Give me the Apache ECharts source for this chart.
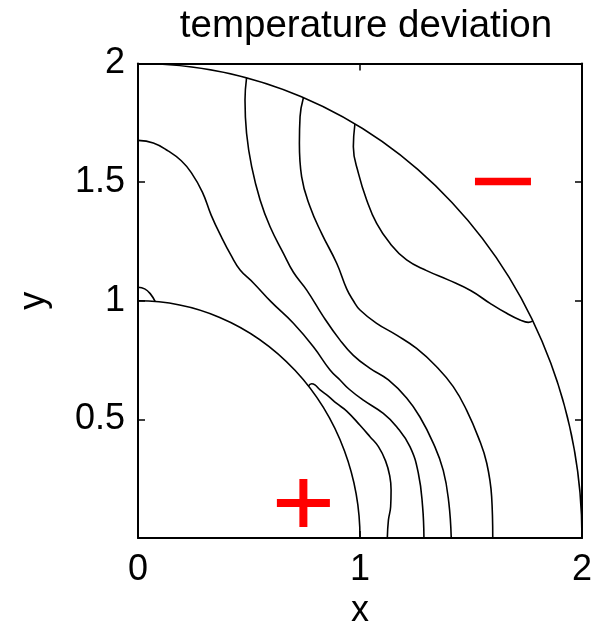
<!DOCTYPE html>
<html><head><meta charset="utf-8">
<script src="https://cdn.jsdelivr.net/npm/echarts@6/dist/echarts.min.js"></script>
<style>html,body{margin:0;padding:0;background:#fff}#c{width:607px;height:628px}</style>
</head><body><div id="c"></div>
<script>
const chartTitle = 'temperature deviation';
const xName = 'x';
const yName = 'y';
const xTickValues = [0, 1, 2];
const yTickValues = [0.5, 1, 1.5, 2];

// boundary circle radii (quarter circles centred at the origin)
const circleRadii = [1, 2];

// contour lines
const contourA = [[0,1.676],[0.069,1.665],[0.135,1.632],[0.195,1.59],[0.24,1.54],[0.29,1.458],[0.33,1.36],[0.375,1.27],[0.42,1.19],[0.46,1.13],[0.52,1.075],[0.60,0.995],[0.70,0.905],[0.79,0.806],[0.865,0.708],[0.91,0.666],[0.95,0.628],[1.015,0.581],[1.105,0.525],[1.165,0.469],[1.225,0.385],[1.263,0.272],[1.282,0.132],[1.288,0]];
const contourB = [[0.489,1.939],[0.482,1.846],[0.489,1.706],[0.512,1.565],[0.55,1.425],[0.595,1.312],[0.655,1.2],[0.70,1.12],[0.76,1.045],[0.835,0.933],[0.91,0.834],[0.97,0.77],[1.045,0.715],[1.128,0.666],[1.21,0.59],[1.27,0.51],[1.33,0.40],[1.375,0.285],[1.40,0.15],[1.411,0]];
const contourC = [[0.745,1.856],[0.730,1.776],[0.727,1.664],[0.737,1.523],[0.775,1.396],[0.827,1.284],[0.895,1.158],[0.94,1.05],[0.97,1.0],[1.0,0.961],[1.075,0.905],[1.165,0.855],[1.255,0.799],[1.345,0.722],[1.42,0.638],[1.48,0.539],[1.535,0.42],[1.571,0.315],[1.593,0.174],[1.598,0]];
const contourD = [[0.977,1.745],[0.970,1.649],[0.993,1.537],[1.030,1.425],[1.075,1.326],[1.135,1.242],[1.21,1.172],[1.30,1.127],[1.40,1.087],[1.50,1.042],[1.586,0.989],[1.661,0.947],[1.721,0.919],[1.758,0.909],[1.778,0.914]];
const contourE = [[0,1.057],[0.03,1.05],[0.055,1.03],[0.077,0.997]];
const contourF = [[0.767,0.640],[0.782,0.650],[0.797,0.645],[0.82,0.624],[0.857,0.598],[0.895,0.567],[0.94,0.535],[1.0,0.475],[1.045,0.427],[1.083,0.385],[1.115,0.325],[1.134,0.262],[1.140,0.202],[1.138,0.132],[1.128,0.075],[1.123,0]];

// sign markers
const plusMarker = [[0.745, 0.148]];
const minusMarker = [[1.644, 1.503]];

const FONT = 'Liberation Sans, Arial, Helvetica, sans-serif';
const contours = [contourA, contourB, contourC, contourD, contourE, contourF];

const chart = echarts.init(document.getElementById('c'), null, {renderer: 'canvas'});

const axisCommon = {
  type: 'value', min: 0, max: 2,
  axisLine: {show: true, onZero: false, lineStyle: {color: '#000', width: 2}},
  axisTick: {show: true, inside: true, length: 7, lineStyle: {color: '#000', width: 1.5}},
  splitLine: {show: false}
};

const series = contours.map(c => ({
  type: 'line', data: c, showSymbol: false, symbol: 'none', smooth: 0.45,
  lineStyle: {color: '#000', width: 1.6}, z: 3, silent: true
}));

series.push({
  type: 'custom', data: circleRadii.map(r => [r, 0]), clip: true, z: 3, silent: true,
  renderItem: function (params, api) {
    const r = api.value(0);
    const c = api.coord([0, 0]);
    const s = api.size([r, r]);
    const rx = s[0], ry = s[1];
    return {
      type: 'path',
      shape: {pathData: 'M ' + c[0] + ' ' + (c[1] - ry) + ' A ' + rx + ' ' + ry + ' 0 0 1 ' + (c[0] + rx) + ' ' + c[1]},
      style: {stroke: '#000', lineWidth: 1.6, fill: null}
    };
  }
});

series.push({
  type: 'scatter', data: plusMarker, z: 4, silent: true,
  symbol: 'path://M22.5,0H30.5V20H53V28H30.5V48H22.5V28H0V20H22.5Z',
  symbolSize: [53, 48], itemStyle: {color: '#ff0000', opacity: 1}
});
series.push({
  type: 'scatter', data: minusMarker, z: 4, silent: true,
  symbol: 'rect', symbolSize: [56, 7.5], itemStyle: {color: '#ff0000', opacity: 1}
});

chart.setOption({
  animation: false,
  backgroundColor: '#fff',
  title: {
    text: chartTitle, left: 361, top: 2, textAlign: 'center',
    textStyle: {fontSize: 38.5, fontWeight: 'normal', color: '#000', fontFamily: FONT}
  },
  grid: {left: 138, right: 25, top: 63.5, bottom: 90, containLabel: false, outerBoundsMode: 'none'},
  xAxis: [
    Object.assign({}, axisCommon, {
      position: 'bottom', interval: 1,
      axisLabel: {fontSize: 36, color: '#000', fontFamily: FONT, margin: 14,
        formatter: v => xTickValues.indexOf(v) >= 0 ? String(v) : ''},
      name: xName, nameLocation: 'middle', nameGap: 49,
      nameTextStyle: {fontSize: 36, color: '#000', fontFamily: FONT}
    }),
    Object.assign({}, axisCommon, {position: 'top', interval: 1, axisLabel: {show: false}})
  ],
  yAxis: [
    Object.assign({}, axisCommon, {
      position: 'left', interval: 0.5,
      axisLabel: {fontSize: 36, color: '#000', fontFamily: FONT, margin: 13, showMinLabel: false,
        formatter: v => yTickValues.indexOf(v) >= 0 ? String(v) : ''},
      name: yName, nameLocation: 'middle', nameGap: 86,
      nameTextStyle: {fontSize: 36, color: '#000', fontFamily: FONT}
    }),
    Object.assign({}, axisCommon, {position: 'right', interval: 0.5, axisLabel: {show: false}})
  ],
  series: series
});
</script>
</body></html>
